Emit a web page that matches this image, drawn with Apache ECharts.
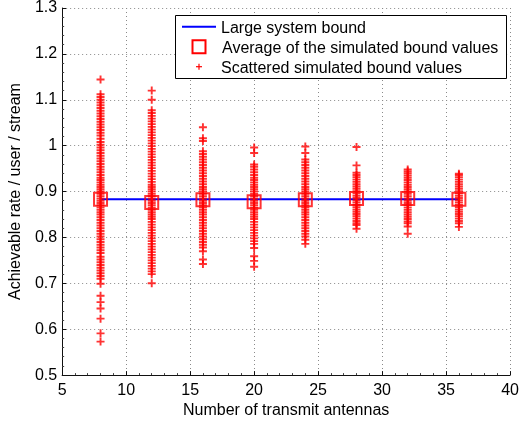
<!DOCTYPE html>
<html>
<head>
<meta charset="utf-8">
<script src="https://cdn.jsdelivr.net/npm/echarts@6/dist/echarts.min.js"></script>
<style>
	html, body { margin: 0; padding: 0; background: #fff; }
	#main { width: 522px; height: 424px; }
</style>
</head>
<body>
<div id="main"></div>
<script>
//数据
var antennas = [8, 12, 16, 20, 24, 28, 32, 36];
var boundValue = 0.883;
var averages = [0.883, 0.876, 0.882, 0.878, 0.882, 0.885, 0.885, 0.883];

var scatter8 = [1.144, 1.112, 1.106, 1.100, 1.094, 1.088, 1.082, 1.076, 1.070, 1.064, 1.058, 1.052, 1.046, 1.040, 1.034, 1.028, 1.022, 1.015, 1.008, 1.002, 0.996, 0.990, 0.984, 0.978, 0.972, 0.966, 0.960, 0.954, 0.948, 0.942, 0.936, 0.930, 0.925, 0.920, 0.915, 0.910, 0.905, 0.900, 0.895, 0.890, 0.885, 0.880, 0.875, 0.870, 0.865, 0.860, 0.855, 0.850, 0.844, 0.838, 0.832, 0.826, 0.820, 0.814, 0.808, 0.802, 0.796, 0.790, 0.784, 0.778, 0.772, 0.766, 0.758, 0.752, 0.746, 0.740, 0.734, 0.728, 0.722, 0.716, 0.710, 0.699, 0.673, 0.659, 0.645, 0.623, 0.591, 0.573];
var scatter12 = [1.120, 1.100, 1.077, 1.071, 1.065, 1.059, 1.053, 1.047, 1.041, 1.035, 1.029, 1.023, 1.017, 1.011, 1.005, 0.999, 0.993, 0.987, 0.981, 0.975, 0.969, 0.963, 0.957, 0.951, 0.945, 0.939, 0.933, 0.927, 0.921, 0.915, 0.910, 0.905, 0.900, 0.895, 0.890, 0.885, 0.880, 0.875, 0.870, 0.865, 0.860, 0.855, 0.850, 0.845, 0.840, 0.834, 0.828, 0.822, 0.816, 0.810, 0.804, 0.798, 0.792, 0.786, 0.780, 0.774, 0.768, 0.762, 0.756, 0.750, 0.744, 0.738, 0.732, 0.726, 0.720, 0.700];
var scatter16 = [1.040, 1.016, 1.010, 0.988, 0.982, 0.976, 0.970, 0.964, 0.958, 0.952, 0.946, 0.940, 0.934, 0.928, 0.922, 0.916, 0.910, 0.905, 0.900, 0.895, 0.890, 0.885, 0.880, 0.875, 0.870, 0.865, 0.860, 0.855, 0.850, 0.844, 0.838, 0.832, 0.826, 0.820, 0.814, 0.808, 0.802, 0.796, 0.790, 0.784, 0.778, 0.770, 0.752, 0.742];
var scatter20 = [0.996, 0.984, 0.959, 0.954, 0.948, 0.942, 0.936, 0.930, 0.925, 0.920, 0.915, 0.910, 0.905, 0.900, 0.895, 0.890, 0.885, 0.880, 0.875, 0.870, 0.865, 0.860, 0.855, 0.850, 0.845, 0.840, 0.834, 0.828, 0.822, 0.816, 0.810, 0.804, 0.798, 0.792, 0.786, 0.777, 0.759, 0.749, 0.736];
var scatter24 = [0.998, 0.984, 0.970, 0.964, 0.958, 0.952, 0.946, 0.940, 0.934, 0.928, 0.922, 0.916, 0.910, 0.905, 0.900, 0.895, 0.890, 0.885, 0.880, 0.875, 0.870, 0.865, 0.860, 0.855, 0.850, 0.844, 0.838, 0.832, 0.826, 0.820, 0.814, 0.808, 0.802, 0.795, 0.786];
var scatter28 = [0.997, 0.957, 0.941, 0.936, 0.931, 0.926, 0.921, 0.916, 0.911, 0.906, 0.901, 0.896, 0.891, 0.886, 0.881, 0.876, 0.871, 0.866, 0.861, 0.856, 0.851, 0.846, 0.841, 0.836, 0.831, 0.827, 0.819];
var scatter32 = [0.948, 0.944, 0.940, 0.935, 0.930, 0.925, 0.920, 0.915, 0.910, 0.905, 0.900, 0.895, 0.890, 0.885, 0.880, 0.875, 0.870, 0.865, 0.860, 0.855, 0.850, 0.845, 0.840, 0.835, 0.831, 0.824, 0.808];
var scatter36 = [0.939, 0.936, 0.931, 0.926, 0.921, 0.916, 0.911, 0.906, 0.901, 0.896, 0.891, 0.886, 0.881, 0.876, 0.871, 0.866, 0.861, 0.856, 0.851, 0.846, 0.841, 0.836, 0.831, 0.823];
var scatterCols = [scatter8, scatter12, scatter16, scatter20, scatter24, scatter28, scatter32, scatter36];

var xTicks = { min: 5, max: 40, interval: 5 };
var yTicks = { min: 0.5, max: 1.3, interval: 0.1 };

var names = ['Large system bound', 'Average of the simulated bound values', 'Scattered simulated bound values'];

//拼数据
var boundData = [[antennas[0], boundValue], [antennas[antennas.length - 1], boundValue]];
var avgData = [];
var scatterData = [];
for(var i = 0; i < antennas.length; i++) {
	avgData.push([antennas[i], averages[i]]);
	for(var j = 0; j < scatterCols[i].length; j++) {
		scatterData.push([antennas[i], scatterCols[i][j]]);
	}
}

var plus = 'path://M0,3.8h10v2.4h-10z M3.8,0h2.4v10h-2.4z';
var font = 'Liberation Sans, Arial, Helvetica, sans-serif';
var textColor = '#000';

function axis(t, name) {
	return {
		type: 'value',
		min: t.min,
		max: t.max,
		interval: t.interval,
		name: name,
		nameLocation: 'middle',
		nameTextStyle: { fontFamily: font, fontSize: 16, color: textColor },
		axisLine: { show: true, onZero: false, lineStyle: { color: '#111', width: 1 } },
		axisTick: { show: true, inside: true, length: 4, lineStyle: { color: '#111' } },
		minorTick: { show: true, splitNumber: 5, length: 2, lineStyle: { color: '#444' } },
		axisLabel: { fontFamily: font, fontSize: 16, color: textColor, margin: 5 },
		splitLine: { show: true, lineStyle: { color: '#8a8a8a', type: [1, 3], width: 1 } }
	};
}

//图例（文字用legend，图标用graphic画）
function legendRow(top, name) {
	return {
		left: 182, top: top, padding: 0, itemWidth: 34, itemHeight: 13,
		textStyle: { fontFamily: font, fontSize: 16, color: textColor },
		data: [{ name: name, icon: 'rect', itemStyle: { opacity: 0 } }]
	};
}

var chart = echarts.init(document.getElementById('main'));
var xa = axis(xTicks, 'Number of transmit antennas');
xa.nameGap = 23;
xa.axisLabel.margin = 7;
var ya = axis(yTicks, 'Achievable rate / user / stream');
ya.nameGap = 33;

chart.setOption({
	animation: false,
	backgroundColor: '#fff',
	grid: { left: 54, right: 10, top: 8, bottom: 41, containLabel: false },
	xAxis: xa,
	yAxis: ya,
	graphic: [{
		type: 'rect',
		z: 3,
		shape: { x: 175.5, y: 15.5, width: 331, height: 63 },
		style: { fill: '#fff', stroke: '#000', lineWidth: 1 }
	}, {
		type: 'line',
		z: 5,
		shape: { x1: 182, y1: 26.7, x2: 216, y2: 26.7 },
		style: { stroke: '#0000ff', lineWidth: 2 }
	}, {
		type: 'rect',
		z: 5,
		shape: { x: 192.5, y: 40.2, width: 13, height: 13 },
		style: { fill: 'none', stroke: '#ff0000', lineWidth: 2 }
	}, {
		type: 'rect',
		z: 5,
		shape: { x: 196, y: 66.1, width: 6, height: 1.2 },
		style: { fill: '#ff0000' }
	}, {
		type: 'rect',
		z: 5,
		shape: { x: 198.4, y: 63.7, width: 1.2, height: 6 },
		style: { fill: '#ff0000' }
	}],
	legend: [legendRow(20.2, names[0]), legendRow(40.2, names[1]), legendRow(60.2, names[2])],
	series: [{
		name: names[0],
		type: 'line',
		symbol: 'none',
		data: boundData,
		lineStyle: { color: '#0000ff', width: 2 },
		itemStyle: { color: '#0000ff' },
		z: 2
	}, {
		name: names[1],
		type: 'scatter',
		symbol: 'rect',
		symbolSize: 13,
		data: avgData,
		itemStyle: { color: 'transparent', borderColor: '#ff0000', borderWidth: 2 },
		z: 3
	}, {
		name: names[2],
		type: 'scatter',
		symbol: plus,
		symbolSize: 8,
		data: scatterData,
		itemStyle: { color: '#ff0000' },
		z: 4
	}]
});
</script>
</body>
</html>
